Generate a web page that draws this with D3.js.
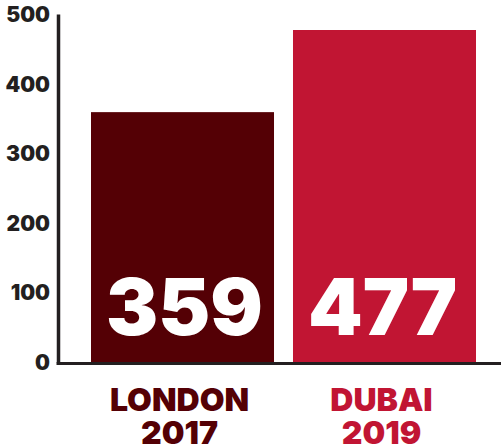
<!DOCTYPE html>
<html>
<head>
<meta charset="utf-8">
<script src="https://cdn.jsdelivr.net/npm/d3@7"></script>
<style>
  html, body { margin: 0; padding: 0; background: #fff; }
  svg { display: block; }
  text { font-family: Inter, Lato, sans-serif; font-weight: 900; }
</style>
</head>
<body>
<div id="chart"></div>
<script>
const cities = ['LONDON', 'DUBAI'];
const years = ['2017', '2019'];
const values = [359, 477];
const barColors = ['#540005', '#c11533'];
const yTicks = [0, 100, 200, 300, 400, 500];

const width = 503, height = 447;
const ink = '#231f20';

let svg = d3.select('#chart').append('svg')
	.attr('width', width)
	.attr('height', height);

let x = d3.scaleBand()
	.domain(cities)
	.range([91, 476])
	.paddingInner(0.094)
	.paddingOuter(0);

let y = d3.scaleLinear()
	.domain([0, 500])
	.range([362, 14]);

// bars
svg.append('g').attr('class', 'bars')
	.selectAll('rect')
	.data(cities)
	.enter()
	.append('rect')
	.attr('x', d => x(d))
	.attr('y', (d, i) => y(values[i]))
	.attr('width', x.bandwidth())
	.attr('height', (d, i) => y(0) - y(values[i]) + 1)
	.style('fill', (d, i) => barColors[i]);

// value labels inside bars
svg.append('g').attr('class', 'values')
	.selectAll('text')
	.data(cities)
	.enter()
	.append('text')
	.attr('x', d => x(d) + 15)
	.attr('y', 335)
	.style('fill', '#fff')
	.style('font-size', '78px')
	.text((d, i) => values[i]);

// y axis
let yAxis = d3.axisLeft(y)
	.tickValues(yTicks)
	.tickSize(0)
	.tickPadding(8);

let gY = svg.append('g')
	.attr('class', 'y axis')
	.attr('transform', 'translate(58,0)')
	.call(yAxis);
gY.select('.domain')
	.attr('stroke', ink)
	.attr('stroke-width', 3.5);
gY.selectAll('text')
	.attr('dy', '0.36em')
	.style('fill', ink)
	.style('font-size', '21px')
	.style('font-family', 'Inter, Lato, sans-serif');

// baseline
svg.append('line')
	.attr('x1', 56.5)
	.attr('x2', 501)
	.attr('y1', 363.5)
	.attr('y2', 363.5)
	.attr('stroke', ink)
	.attr('stroke-width', 3);

// category labels
let cats = svg.append('g').attr('class', 'cats')
	.selectAll('text')
	.data(cities)
	.enter()
	.append('text')
	.attr('text-anchor', 'middle')
	.attr('x', d => x(d) + x.bandwidth() / 2 - 3)
	.attr('y', 411)
	.style('fill', (d, i) => barColors[i])
	.style('font-size', '32px');
cats.append('tspan')
	.attr('x', d => x(d) + x.bandwidth() / 2 - 3)
	.text(d => d);
cats.append('tspan')
	.attr('x', d => x(d) + x.bandwidth() / 2 - 3)
	.attr('dy', 33)
	.text((d, i) => years[i]);
</script>
</body>
</html>
